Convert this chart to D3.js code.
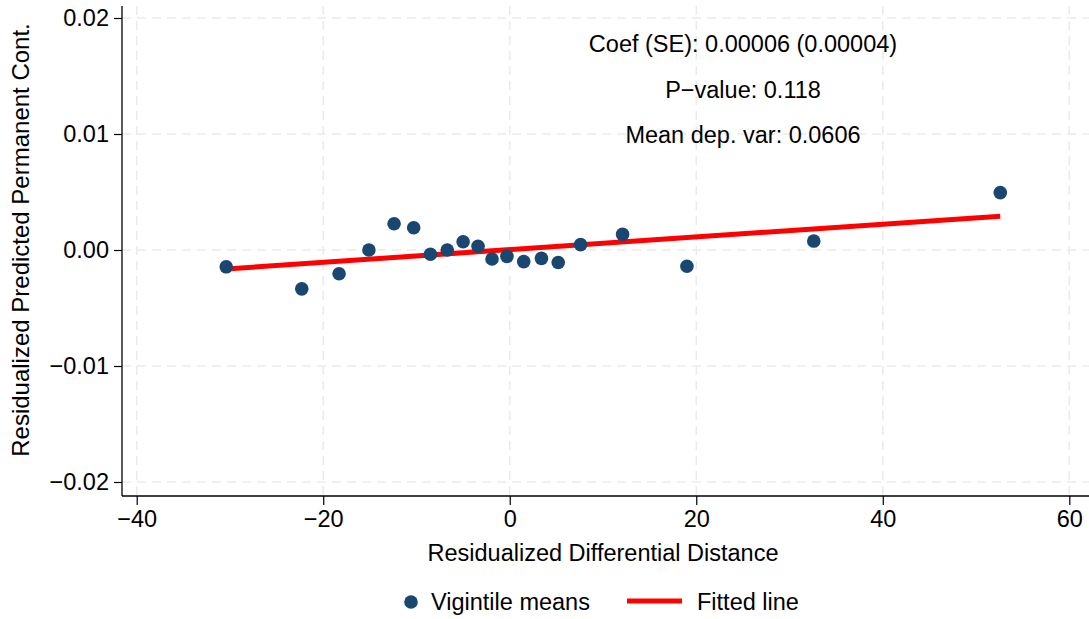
<!DOCTYPE html>
<html>
<head>
<meta charset="utf-8">
<script src="https://cdn.jsdelivr.net/npm/d3@7"></script>
<style>
  body { margin: 0; background: #fff; }
  text { font-family: "Liberation Sans", Arial, sans-serif; fill: #000; }
</style>
</head>
<body>
<div id="chart"></div>
<script>
// vigintile means (x = residualized differential distance, y = residualized predicted permanent cont.)
var binX = [-30.4, -22.3, -18.3, -15.1, -12.4, -10.3, -8.5, -6.7, -5.0, -3.4,
            -1.9, -0.3, 1.5, 3.4, 5.2, 7.6, 12.1, 19.0, 32.6, 52.6];
var binY = [-0.00145, -0.00335, -0.00205, 0.0000, 0.00226, 0.00192, -0.00037, 0.0000, 0.00071, 0.00032,
            -0.00078, -0.00055, -0.00100, -0.00072, -0.00108, 0.00046, 0.00135, -0.00140, 0.00077, 0.00495];

// fitted line end points
var fitX = [-30.4, 52.6];
var fitY = [-0.00163, 0.00291];

var xTicks = [-40, -20, 0, 20, 40, 60];
var yTicks = [-0.02, -0.01, 0, 0.01, 0.02];

var statLines = ["Coef (SE): 0.00006 (0.00004)", "P\u2212value: 0.118", "Mean dep. var: 0.0606"];

function init(){
    var w = 1089;
    var h = 619;
    var fs = '23.5px';

    var left = 122, right = 1089, top = 6, bottom = 496;

    var xScale = d3.scaleLinear()
                    .domain([-40, 60])
                    .range([136.7, 1069.3]);

    var yScale = d3.scaleLinear()
                    .domain([-0.02, 0.02])
                    .range([482, 18]);

    var svg = d3.select('#chart')
                .append('svg')
                .attr('width', w)
                .attr('height', h);

    // grid lines
    svg.selectAll('.vgrid')
        .data(xTicks)
        .enter()
        .append('line')
        .attr('x1', function(d){ return xScale(d); })
        .attr('x2', function(d){ return xScale(d); })
        .attr('y1', top)
        .attr('y2', bottom)
        .attr('stroke', '#ebebeb')
        .attr('stroke-width', 1.5)
        .attr('stroke-dasharray', '9,6');

    svg.selectAll('.hgrid')
        .data(yTicks)
        .enter()
        .append('line')
        .attr('x1', left)
        .attr('x2', right)
        .attr('y1', function(d){ return yScale(d); })
        .attr('y2', function(d){ return yScale(d); })
        .attr('stroke', '#ebebeb')
        .attr('stroke-width', 1.5)
        .attr('stroke-dasharray', '9,6');

    // axes
    var fmtY = function(d){ return d3.format('.2f')(d).replace('-', '\u2212'); };
    var fmtX = function(d){ return String(d).replace('-', '\u2212'); };

    var yAxis = d3.axisLeft(yScale)
                  .tickValues(yTicks)
                  .tickFormat(fmtY)
                  .tickSize(8)
                  .tickPadding(5);

    var xAxis = d3.axisBottom(xScale)
                  .tickValues(xTicks)
                  .tickFormat(fmtX)
                  .tickSize(9)
                  .tickPadding(5);

    var gy = svg.append('g')
        .attr('transform', 'translate(' + left + ',0)')
        .call(yAxis);
    gy.select('.domain').remove();
    gy.append('line')
        .attr('x1', 0).attr('x2', 0)
        .attr('y1', top).attr('y2', bottom)
        .attr('stroke', '#000').attr('stroke-width', 1.3);

    var gx = svg.append('g')
        .attr('transform', 'translate(0,' + bottom + ')')
        .call(xAxis);
    gx.select('.domain').remove();
    gx.append('line')
        .attr('x1', left).attr('x2', right)
        .attr('y1', 0).attr('y2', 0)
        .attr('stroke', '#000').attr('stroke-width', 1.3);

    svg.selectAll('.tick line').attr('stroke', '#000').attr('stroke-width', 1.2);
    svg.selectAll('.tick text')
        .attr('font-size', fs)
        .attr('font-family', '"Liberation Sans", Arial, sans-serif')
        .attr('fill', '#000');

    // axis titles
    svg.append('text')
        .attr('x', 603)
        .attr('y', 561)
        .attr('text-anchor', 'middle')
        .attr('font-size', fs)
        .text('Residualized Differential Distance');

    svg.append('text')
        .attr('transform', 'translate(29,240) rotate(-90)')
        .attr('text-anchor', 'middle')
        .attr('font-size', '24px')
        .text('Residualized Predicted Permanent Cont.');

    // fitted line
    var fitData = fitX.map(function(d, i){ return [d, fitY[i]]; });
    svg.append('path')
        .datum(fitData)
        .attr('d', d3.line()
            .x(function(d){ return xScale(d[0]); })
            .y(function(d){ return yScale(d[1]); }))
        .attr('stroke', '#ff0000')
        .attr('stroke-width', 5)
        .attr('fill', 'none');

    // vigintile points
    svg.selectAll('circle.pt')
        .data(binX)
        .enter()
        .append('circle')
        .attr('class', 'pt')
        .attr('cx', function(d){ return xScale(d); })
        .attr('cy', function(d, i){ return yScale(binY[i]); })
        .attr('r', 6.8)
        .attr('fill', '#1a476f');

    // stats text
    svg.selectAll('text.stat')
        .data(statLines)
        .enter()
        .append('text')
        .attr('class', 'stat')
        .attr('x', 743)
        .attr('y', function(d, i){ return 52 + i * 45.7; })
        .attr('text-anchor', 'middle')
        .attr('font-size', fs)
        .text(function(d){ return d; });

    // legend
    var leg = svg.append('g');
    leg.append('circle')
        .attr('cx', 411).attr('cy', 602).attr('r', 6.8)
        .attr('fill', '#1a476f');
    leg.append('text')
        .attr('x', 431).attr('y', 610)
        .attr('font-size', fs)
        .text('Vigintile means');
    leg.append('line')
        .attr('x1', 627).attr('x2', 682)
        .attr('y1', 601).attr('y2', 601)
        .attr('stroke', '#ff0000').attr('stroke-width', 5);
    leg.append('text')
        .attr('x', 697).attr('y', 610)
        .attr('font-size', fs)
        .text('Fitted line');
}

window.onload = init;
</script>
</body>
</html>
